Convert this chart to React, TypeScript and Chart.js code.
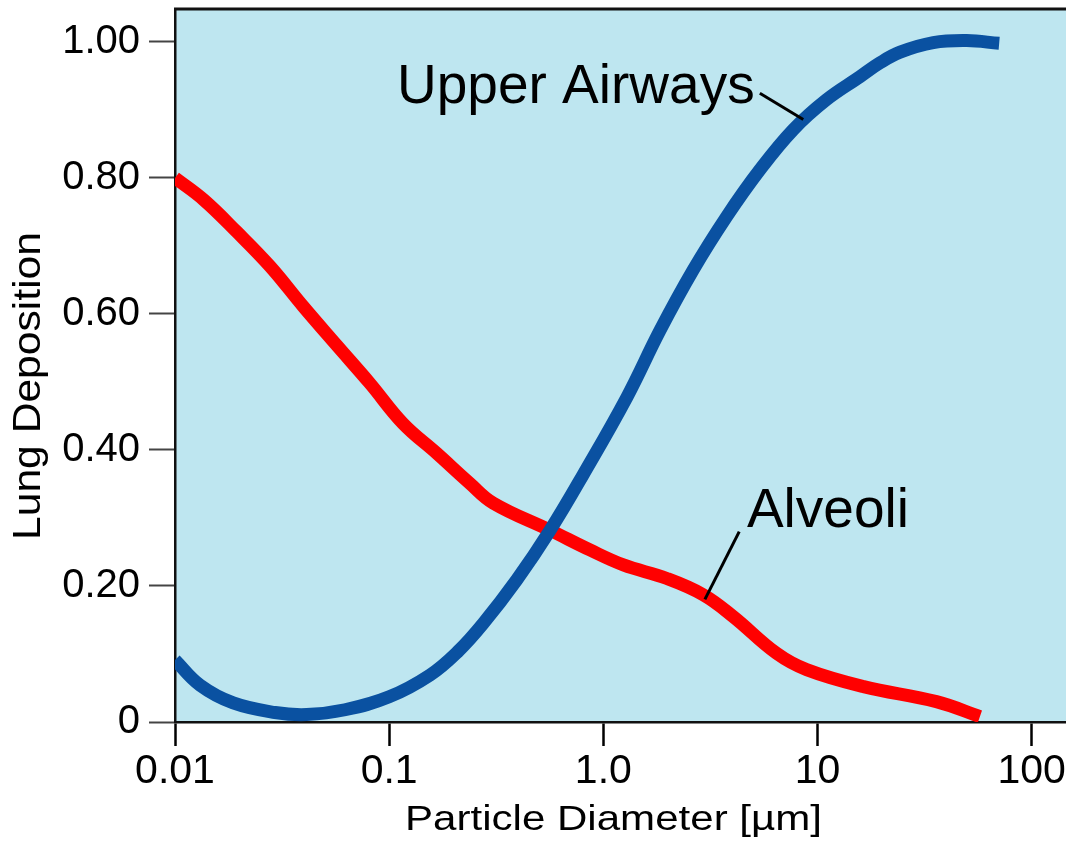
import React, { useEffect, useRef } from "react";
import { Chart, registerables } from "chart.js";

Chart.register(...registerables);

// Deposition curves: particle diameter (µm) against deposited fraction
const airwaysDiameter = [
  0.01, 0.0131, 0.0187, 0.0293, 0.0412, 0.0622, 0.1, 0.155, 0.21, 0.275, 0.394,
  0.564, 0.806, 1.29, 1.84, 2.63, 3.76, 5.38, 7.7, 11.0, 15.8, 19.5, 24.3,
  34.7, 49.7, 70.5,
];
const airwaysDeposition = [
  0.091, 0.054, 0.028, 0.014, 0.011, 0.018, 0.037, 0.069, 0.104, 0.145, 0.209,
  0.282, 0.364, 0.478, 0.576, 0.665, 0.743, 0.812, 0.871, 0.915, 0.949,
  0.969, 0.985, 0.999, 1.002, 0.998,
];

const alveoliDiameter = [
  0.01, 0.0136, 0.0194, 0.0278, 0.0397, 0.0569, 0.0813, 0.116, 0.167, 0.238,
  0.306, 0.564, 0.866, 1.24, 1.98, 2.93, 4.04, 6.44, 8.89, 16.4, 35.9, 57.3,
];
const alveoliDeposition = [
  0.8, 0.768, 0.721, 0.67, 0.611, 0.554, 0.498, 0.439, 0.395, 0.351, 0.322, 0.282,
  0.253, 0.231, 0.211, 0.187, 0.155, 0.101, 0.077, 0.052, 0.03, 0.008,
];

const seriesNames = ["Upper Airways", "Alveoli"];
const xTickValues = [0.01, 0.1, 1, 10, 100];
const xTickLabels = ["0.01", "0.1", "1.0", "10", "100"];
const yTickValues = [0, 0.2, 0.4, 0.6, 0.8, 1.0];
const yTickLabels = ["0", "0.20", "0.40", "0.60", "0.80", "1.00"];
const xTitle = "Particle Diameter [µm]";
const yTitle = "Lung Deposition";

const FONT = '"Liberation Sans", Arial, Helvetica, sans-serif';
const AIRWAYS_COLOR = "#0A51A1";
const ALVEOLI_COLOR = "#FF0000";
const PLOT_BG = "#BEE6F0";

// Callout labels with leader lines, placed in data coordinates
const callouts = [
  { text: seriesNames[0], at: [0.1088, 0.91], from: [5.38, 0.9246], to: [8.58, 0.886] },
  { text: seriesNames[1], at: [4.68, 0.2868], from: [4.31, 0.2799], to: [2.98, 0.1804] },
];

function drawFittedText(
  ctx: CanvasRenderingContext2D,
  text: string,
  cx: number,
  baseline: number,
  length: number,
  fontPx: number,
  vertical: boolean
) {
  ctx.save();
  ctx.font = `${fontPx}px ${FONT}`;
  const w = ctx.measureText(text).width;
  ctx.translate(cx, baseline);
  if (vertical) ctx.rotate(-Math.PI / 2);
  ctx.scale(length / w, 1);
  ctx.textAlign = "center";
  ctx.textBaseline = "alphabetic";
  ctx.fillStyle = "#000";
  ctx.fillText(text, 0, 0);
  ctx.restore();
}

const plotDecor = {
  id: "plotDecor",
  beforeDraw(chart: any) {
    const { ctx, chartArea } = chart;
    ctx.save();
    ctx.fillStyle = PLOT_BG;
    ctx.fillRect(chartArea.left, chartArea.top, chartArea.right - chartArea.left, chartArea.bottom - chartArea.top);
    ctx.restore();
  },
  afterDraw(chart: any) {
    const { ctx, chartArea, scales } = chart;
    const xs = scales.x;
    const ys = scales.y;

    // frame line along the top of the plot
    ctx.save();
    ctx.strokeStyle = "#111";
    ctx.lineWidth = 3;
    ctx.beginPath();
    ctx.moveTo(chartArea.left - 1, chartArea.top);
    ctx.lineTo(chartArea.right, chartArea.top);
    ctx.stroke();

    // callouts
    ctx.lineWidth = 3;
    ctx.strokeStyle = "#000";
    ctx.fillStyle = "#000";
    ctx.font = `55px ${FONT}`;
    ctx.textAlign = "left";
    ctx.textBaseline = "alphabetic";
    for (const c of callouts) {
      ctx.fillText(c.text, xs.getPixelForValue(c.at[0]), ys.getPixelForValue(c.at[1]));
      ctx.beginPath();
      ctx.moveTo(xs.getPixelForValue(c.from[0]), ys.getPixelForValue(c.from[1]));
      ctx.lineTo(xs.getPixelForValue(c.to[0]), ys.getPixelForValue(c.to[1]));
      ctx.stroke();
    }
    ctx.restore();

    // axis titles
    drawFittedText(ctx, xTitle, 613.5, 830, 417, 35, false);
    drawFittedText(ctx, yTitle, 40, 386, 308, 39, true);
  },
};

function zeroPadding(s: any) {
  s.paddingLeft = 0;
  s.paddingRight = 0;
  s.paddingTop = 0;
  s.paddingBottom = 0;
}

export default function App() {
  const canvasRef = useRef<HTMLCanvasElement | null>(null);

  useEffect(() => {
    const canvas = canvasRef.current;
    if (!canvas) return;

    const chart = new Chart(canvas, {
      type: "line",
      data: {
        datasets: [
          {
            label: seriesNames[0],
            data: airwaysDiameter.map((x, i) => ({ x, y: airwaysDeposition[i] })),
            borderColor: AIRWAYS_COLOR,
            borderWidth: 13,
            pointRadius: 0,
            fill: false,
            tension: 0.4,
          },
          {
            label: seriesNames[1],
            data: alveoliDiameter.map((x, i) => ({ x, y: alveoliDeposition[i] })),
            borderColor: ALVEOLI_COLOR,
            borderWidth: 13,
            pointRadius: 0,
            fill: false,
            tension: 0.4,
          },
        ],
      },
      options: {
        animation: false,
        responsive: false,
        devicePixelRatio: 1,
        layout: { padding: { top: 9, right: 0, bottom: 0, left: 0 } },
        plugins: {
          legend: { display: false },
          tooltip: { enabled: false },
        },
        scales: {
          x: {
            type: "logarithmic",
            min: 0.01,
            max: 144.6,
            afterBuildTicks: (s: any) => {
              s.ticks = xTickValues.map((v) => ({ value: v }));
            },
            afterFit: (s: any) => {
              s.height = 120;
              zeroPadding(s);
            },
            ticks: {
              autoSkip: false,
              maxRotation: 0,
              padding: 1,
              color: "#000",
              font: { size: 41, family: FONT },
              callback: (_v: any, i: number) => xTickLabels[i],
            },
            grid: {
              display: true,
              drawOnChartArea: false,
              drawTicks: true,
              tickLength: 24,
              tickWidth: 2.5,
              tickColor: "#000",
            },
            border: { display: true, color: "#111", width: 2.5 },
          },
          y: {
            type: "linear",
            min: 0,
            max: 1.0485,
            afterBuildTicks: (s: any) => {
              s.ticks = yTickValues.map((v) => ({ value: v }));
            },
            afterFit: (s: any) => {
              s.width = 175;
              zeroPadding(s);
            },
            ticks: {
              autoSkip: false,
              padding: 9,
              color: "#000",
              font: { size: 40, family: FONT },
              callback: (_v: any, i: number) => yTickLabels[i],
            },
            grid: {
              display: true,
              drawOnChartArea: false,
              drawTicks: true,
              tickLength: 26,
              tickWidth: 2,
              tickColor: "#444",
            },
            border: { display: true, color: "#111", width: 2.5 },
          },
        },
      },
      plugins: [plotDecor],
    });

    return () => chart.destroy();
  }, []);

  return (
    <div style={{ position: "fixed", left: 0, top: 0, width: 1066, height: 842, background: "#fff" }}>
      <canvas ref={canvasRef} width={1066} height={842} style={{ width: 1066, height: 842, display: "block" }} />
    </div>
  );
}
